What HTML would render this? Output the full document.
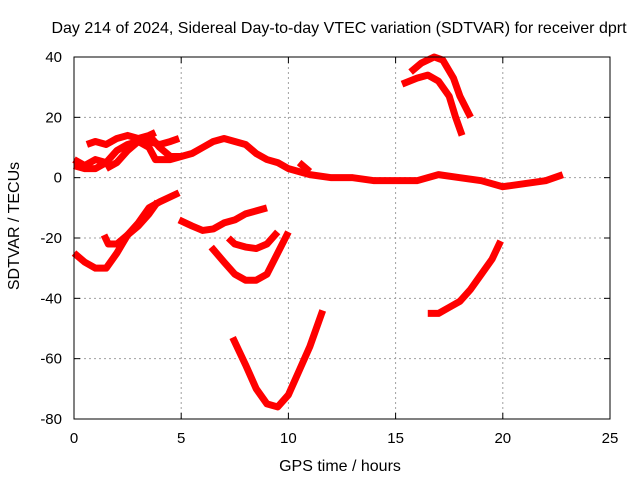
<!DOCTYPE html>
<html><head><meta charset="utf-8"><style>
body{margin:0;background:#fff}
svg{display:block;font-family:"Liberation Sans",sans-serif}
</style></head><body>
<svg id="chart" width="640" height="480" viewBox="0 0 640 480">
<text x="339" y="33" text-anchor="middle" font-size="16">Day 214 of 2024, Sidereal Day-to-day VTEC variation (SDTVAR) for receiver dprt</text>
<text x="340" y="471" text-anchor="middle" font-size="16">GPS time / hours</text>
<text transform="translate(19,226) rotate(-90)" text-anchor="middle" font-size="16">SDTVAR / TECUs</text>
<g id="grid"></g>
<g id="series"></g>
<rect x="74" y="57" width="536" height="362" fill="none" stroke="#000" stroke-width="1"/>
<g id="ticks"></g>
</svg>
<script>
const xTicks=[0,5,10,15,20,25];
const yTicks=[40,20,0,-20,-40,-60,-80];
const trace1=[[0,6],[0.5,4],[1,6],[1.5,5]];
const trace2=[[0.6,11],[1,12],[1.5,11],[2,13],[2.5,14],[3,13],[3.5,14],[3.8,15]];
const trace3=[[0,4],[0.5,3],[1,3],[1.5,5],[2,9],[2.5,11],[3,12],[3.5,12],[4,11],[4.5,12],[4.9,13]];
const trace4=[[1.5,3],[2,5],[2.5,9],[3,12],[3.5,10],[3.8,6],[4.5,6],[5,7],[5.5,8],[6,10],[6.5,12],[7,13],[7.5,12],[8,11],[8.5,8],[9,6],[9.5,5],[10,3],[10.5,2],[11,1],[12,0],[13,0],[14,-1],[15,-1],[16,-1],[17,1],[18,0],[19,-1],[20,-3],[21,-2],[22,-1],[22.8,1]];
const trace5=[[3.5,14],[4,10],[4.5,7],[5,7]];
const trace6=[[10.5,5],[11,2]];
const trace7=[[0,-25],[0.5,-28],[1,-30],[1.5,-30],[2,-25],[2.5,-19],[3,-16],[3.5,-12],[3.9,-8]];
const trace8=[[1.4,-19],[1.6,-22],[2,-22],[2.5,-19],[3,-15],[3.5,-10],[4,-8],[4.9,-5]];
const trace9=[[4.9,-14],[5.5,-16],[6,-17.5],[6.5,-17],[7,-15],[7.5,-14],[8,-12],[8.5,-11],[9,-10]];
const trace10=[[7.2,-20],[7.5,-22],[8,-23],[8.5,-23.5],[9,-22],[9.5,-18]];
const trace11=[[6.4,-23],[7,-28],[7.5,-32],[8,-34],[8.5,-34],[9,-32],[9.5,-25],[10,-18]];
const trace12=[[7.4,-53],[8,-62],[8.5,-70],[9,-75],[9.5,-76],[10,-72],[10.5,-64],[11,-56],[11.6,-44]];
const trace13=[[16.5,-45],[17,-45],[17.5,-43],[18,-41],[18.5,-37],[19,-32],[19.5,-27],[19.9,-21]];
const trace14=[[15.3,31],[16,33],[16.5,34],[17,32],[17.5,27],[17.8,20],[18.1,14]];
const trace15=[[15.7,35],[16.2,38],[16.8,40],[17.2,39],[17.7,33],[18,27],[18.5,20]];
const traces=[trace1,trace2,trace3,trace4,trace5,trace6,trace7,trace8,trace9,trace10,trace11,trace12,trace13,trace14,trace15];
const X=v=>74+(v-0)*(536/25);
const Y=v=>57+(40-v)*(362/120);
const NS="http://www.w3.org/2000/svg";
const grid=document.getElementById('grid'),ticks=document.getElementById('ticks'),ser=document.getElementById('series');
function mk(tag,attrs,parent){const e=document.createElementNS(NS,tag);for(const k in attrs)e.setAttribute(k,attrs[k]);parent.appendChild(e);return e;}
xTicks.forEach(t=>{
  const x=X(t);
  if(t>0&&t<25){const g=mk('line',{x1:x,x2:x,y1:57,y2:419,stroke:'#a0a0a0','stroke-dasharray':'2,3'},grid);
  
  }
  const a=mk('line',{x1:x,x2:x,y1:419,y2:413,stroke:'#000'},ticks);
  
  
  const b=mk('line',{x1:x,x2:x,y1:57,y2:63,stroke:'#000'},ticks);
  
  
  const l=mk('text',{x:x,y:443,'text-anchor':'middle','font-size':15},ticks);
  l.textContent=t;
  
  
});
yTicks.forEach(t=>{
  const y=Y(t);
  if(t<40&&t>-80){const g=mk('line',{x1:74,x2:610,y1:y,y2:y,stroke:'#a0a0a0','stroke-dasharray':'2,3'},grid);
  
  }
  const a=mk('line',{x1:74,x2:80,y1:y,y2:y,stroke:'#000'},ticks);
  
  
  const b=mk('line',{x1:604,x2:610,y1:y,y2:y,stroke:'#000'},ticks);
  
  
  const l=mk('text',{x:62,y:y+5,'text-anchor':'end','font-size':15},ticks);
  l.textContent=t;
  
  
});
traces.forEach((tr,i)=>{
  const p=mk('polyline',{points:tr.map(d=>X(d[0])+','+Y(d[1])).join(' '),fill:'none',stroke:'#ff0000','stroke-width':7,'stroke-linejoin':'round','stroke-linecap':'butt'},ser);
  
  
});
</script>
</body></html>
